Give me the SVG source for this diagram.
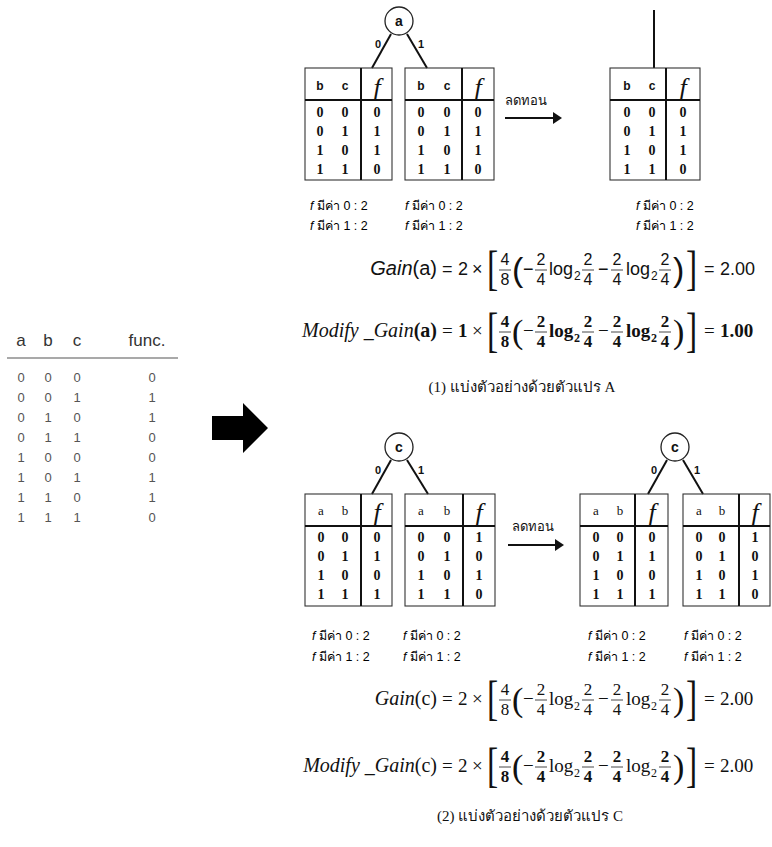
<svg xmlns="http://www.w3.org/2000/svg" width="772" height="847" viewBox="0 0 772 847">
<style>
.frame{fill:none;stroke:#333;stroke-width:1.1}
.bar{stroke:#111;stroke-width:2}
.wire{stroke:#111;stroke-width:2;fill:none}
.thin{stroke:#333;stroke-width:0.9}
.node circle{fill:#fff;stroke:#222;stroke-width:1.3}
.nl{font-family:"Liberation Sans",Arial,sans-serif;font-weight:bold;font-size:14px;text-anchor:middle;fill:#111}
.el{font-family:"Liberation Sans",Arial,sans-serif;font-weight:bold;font-size:11px;text-anchor:middle;fill:#111}
.hd{font-family:"Liberation Sans",Arial,sans-serif;font-weight:bold;font-size:12px;text-anchor:middle;fill:#111}
.hs{font-family:"Liberation Serif","Times New Roman",serif;font-size:13px;text-anchor:middle;fill:#111}
.fx{font-family:"Liberation Serif","Times New Roman",serif;font-style:italic;font-size:26px;text-anchor:middle;fill:#111}
.dg{font-family:"Liberation Serif","Times New Roman",serif;font-weight:bold;font-size:14px;text-anchor:middle;fill:#111}
.cnt{font-family:"Liberation Sans","DejaVu Sans","Noto Sans",sans-serif;font-size:12.5px;fill:#000}
.th{font-family:"Liberation Sans","DejaVu Sans","Noto Sans",sans-serif;font-size:13px;fill:#111}
.lh{font-family:"Liberation Sans",Arial,sans-serif;font-size:17px;fill:#333;text-anchor:middle}
.lt{font-family:"Liberation Sans",Arial,sans-serif;font-size:13px;fill:#555;text-anchor:middle}
.ss{font-family:"Liberation Sans",Arial,sans-serif;font-size:18px;fill:#111}
.sl{font-size:20px}
.sn{font-family:"Liberation Sans",Arial,sans-serif;font-size:16px;fill:#111;text-anchor:middle}
.ms{font-family:"Liberation Serif","Times New Roman",serif;font-size:19px;fill:#111}
.ml{font-size:20px}
.mn{font-family:"Liberation Serif","Times New Roman",serif;font-size:17px;fill:#111;text-anchor:middle}
.b{font-weight:bold}
.it{font-style:italic}
.sub{font-size:12px}
.brk{font-family:"Liberation Serif","Times New Roman",serif;font-size:48px;fill:#111}
.par{font-size:34px}
.cap{font-family:"Liberation Serif","Times New Roman","DejaVu Serif",serif;font-size:15px;fill:#111;text-anchor:middle}
</style>

<!-- source truth table -->
<g id="source-table">
  <text class="lh" x="21" y="346">a</text>
  <text class="lh" x="48" y="346">b</text>
  <text class="lh" x="77" y="346">c</text>
  <text class="lh" x="147" y="346">func.</text>
  <line x1="7" y1="358" x2="178" y2="358" stroke="#555" stroke-width="1.2"/>
  <g class="lt">
    <text x="21" y="382">0</text><text x="48" y="382">0</text><text x="77" y="382">0</text><text x="152" y="382">0</text>
    <text x="21" y="402">0</text><text x="48" y="402">0</text><text x="77" y="402">1</text><text x="152" y="402">1</text>
    <text x="21" y="422">0</text><text x="48" y="422">1</text><text x="77" y="422">0</text><text x="152" y="422">1</text>
    <text x="21" y="442">0</text><text x="48" y="442">1</text><text x="77" y="442">1</text><text x="152" y="442">0</text>
    <text x="21" y="462">1</text><text x="48" y="462">0</text><text x="77" y="462">0</text><text x="152" y="462">0</text>
    <text x="21" y="482">1</text><text x="48" y="482">0</text><text x="77" y="482">1</text><text x="152" y="482">1</text>
    <text x="21" y="502">1</text><text x="48" y="502">1</text><text x="77" y="502">0</text><text x="152" y="502">1</text>
    <text x="21" y="522">1</text><text x="48" y="522">1</text><text x="77" y="522">1</text><text x="152" y="522">0</text>
  </g>
</g>

<!-- connectors: tree edges, reduction arrows, main arrow -->
<g id="connectors">
  <path d="M212 416 H243 V403 L268 428 L243 453 V440 H212 Z" fill="#000"/>
  <line class="wire" x1="391" y1="34" x2="372" y2="68"/>
  <line class="wire" x1="407" y1="34" x2="427" y2="68"/>
  <line class="wire" x1="654" y1="10" x2="654" y2="68"/>
  <line class="wire" x1="391" y1="460" x2="372" y2="494"/>
  <line class="wire" x1="407" y1="460" x2="428" y2="494"/>
  <line class="wire" x1="667" y1="460" x2="648" y2="494"/>
  <line class="wire" x1="683" y1="460" x2="703" y2="494"/>
  <line class="wire" x1="505" y1="118" x2="554" y2="118"/>
  <polygon points="553,112 562,118 553,124" fill="#111"/>
  <line class="wire" x1="508" y1="545" x2="556" y2="545"/>
  <polygon points="555,539 564,545 555,551" fill="#111"/>
  <text class="el" x="378" y="48">0</text>
  <text class="el" x="421" y="48">1</text>
  <text class="el" x="378" y="474">0</text>
  <text class="el" x="421" y="474">1</text>
  <text class="el" x="654" y="474">0</text>
  <text class="el" x="697" y="474">1</text>
  <text class="th" x="505" y="105">ลดทอน</text>
  <text class="th" x="512" y="531">ลดทอน</text>
</g>

<!-- split nodes -->
<g id="node-a" class="node"><circle cx="399" cy="21" r="14"/><text class="nl" x="399" y="26">a</text></g>
<g id="node-c1" class="node"><circle cx="399" cy="447" r="14"/><text class="nl" x="399" y="452">c</text></g>
<g id="node-c2" class="node"><circle cx="675" cy="447" r="14"/><text class="nl" x="675" y="452">c</text></g>

<!-- split on a: branch a=0 -->
<g id="table-a0">
  <rect class="frame" x="305" y="68" width="87" height="112"/>
  <line class="bar" x1="305" y1="100" x2="392" y2="100"/>
  <line class="bar" x1="361" y1="68" x2="361" y2="180"/>
  <text class="hd" x="320" y="90">b</text><text class="hd" x="345" y="90">c</text><text class="fx" x="377" y="96">f</text>
  <g class="dg">
    <text x="320" y="117">0</text><text x="345" y="117">0</text><text x="377" y="117">0</text>
    <text x="320" y="136">0</text><text x="345" y="136">1</text><text x="377" y="136">1</text>
    <text x="320" y="155">1</text><text x="345" y="155">0</text><text x="377" y="155">1</text>
    <text x="320" y="174">1</text><text x="345" y="174">1</text><text x="377" y="174">0</text>
  </g>
</g>
<!-- split on a: branch a=1 -->
<g id="table-a1">
  <rect class="frame" x="405" y="68" width="89" height="112"/>
  <line class="bar" x1="405" y1="100" x2="494" y2="100"/>
  <line class="bar" x1="462" y1="68" x2="462" y2="180"/>
  <text class="hd" x="421" y="90">b</text><text class="hd" x="447" y="90">c</text><text class="fx" x="478" y="96">f</text>
  <g class="dg">
    <text x="421" y="117">0</text><text x="447" y="117">0</text><text x="478" y="117">0</text>
    <text x="421" y="136">0</text><text x="447" y="136">1</text><text x="478" y="136">1</text>
    <text x="421" y="155">1</text><text x="447" y="155">0</text><text x="478" y="155">1</text>
    <text x="421" y="174">1</text><text x="447" y="174">1</text><text x="478" y="174">0</text>
  </g>
</g>
<!-- reduced table after merging -->
<g id="table-a-reduced">
  <rect class="frame" x="610" y="68" width="90" height="112"/>
  <line class="bar" x1="610" y1="100" x2="700" y2="100"/>
  <line class="bar" x1="666" y1="68" x2="666" y2="180"/>
  <text class="hd" x="627" y="90">b</text><text class="hd" x="652" y="90">c</text><text class="fx" x="683" y="96">f</text>
  <g class="dg">
    <text x="627" y="117">0</text><text x="652" y="117">0</text><text x="683" y="117">0</text>
    <text x="627" y="136">0</text><text x="652" y="136">1</text><text x="683" y="136">1</text>
    <text x="627" y="155">1</text><text x="652" y="155">0</text><text x="683" y="155">1</text>
    <text x="627" y="174">1</text><text x="652" y="174">1</text><text x="683" y="174">0</text>
  </g>
</g>

<!-- value counts, part 1 -->
<g id="counts-a" class="cnt">
  <text x="310" y="210"><tspan class="it">f</tspan> มีค่า 0 : 2</text>
  <text x="310" y="230"><tspan class="it">f</tspan> มีค่า 1 : 2</text>
  <text x="405" y="210"><tspan class="it">f</tspan> มีค่า 0 : 2</text>
  <text x="405" y="230"><tspan class="it">f</tspan> มีค่า 1 : 2</text>
  <text x="636" y="210"><tspan class="it">f</tspan> มีค่า 0 : 2</text>
  <text x="636" y="230"><tspan class="it">f</tspan> มีค่า 1 : 2</text>
</g>

<!-- Gain(a) -->
<g id="gain-a">
  <text class="ss sl" x="437" y="275" text-anchor="end"><tspan class="it">Gain</tspan>(a)</text>
  <text class="ss" x="442" y="275">=</text><text class="ss" x="458" y="275">2</text><text class="ss" x="472" y="275">×</text>
  <text class="brk" transform="translate(487 284) scale(0.7 1)">[</text>
  <text class="sn" x="505" y="265">4</text><line class="thin" x1="499" y1="270" x2="511" y2="270"/><text class="sn" x="505" y="285">8</text>
  <text class="ss par" x="512" y="281">(</text>
  <text class="ss" x="523" y="275">−</text>
  <text class="sn" x="541" y="265">2</text><line class="thin" x1="535" y1="270" x2="547" y2="270"/><text class="sn" x="541" y="285">4</text>
  <text class="ss" x="549" y="275">log</text><text class="ss sub" x="574" y="280">2</text>
  <text class="sn" x="588" y="265">2</text><line class="thin" x1="582" y1="270" x2="594" y2="270"/><text class="sn" x="588" y="285">4</text>
  <text class="ss" x="598" y="275">−</text>
  <text class="sn" x="617" y="265">2</text><line class="thin" x1="611" y1="270" x2="623" y2="270"/><text class="sn" x="617" y="285">4</text>
  <text class="ss" x="626" y="275">log</text><text class="ss sub" x="651" y="280">2</text>
  <text class="sn" x="665" y="265">2</text><line class="thin" x1="659" y1="270" x2="671" y2="270"/><text class="sn" x="665" y="285">4</text>
  <text class="ss par" x="673" y="281">)</text>
  <text class="brk" transform="translate(686 284) scale(0.7 1)">]</text>
  <text class="ss" x="704" y="275">=</text><text class="ss" x="720" y="275">2.00</text>
</g>

<!-- Modify_Gain(a) -->
<g id="modify-gain-a">
  <text class="ms ml" x="437" y="337" text-anchor="end"><tspan class="it">Modify _Gain</tspan><tspan class="b">(a)</tspan></text>
  <text class="ms" x="442" y="337">=</text><text class="ms b" x="458" y="337">1</text><text class="ms" x="472" y="337">×</text>
  <text class="brk" transform="translate(487 346) scale(0.7 1)">[</text>
  <text class="mn b" x="505" y="327">4</text><line class="thin" x1="499" y1="332" x2="511" y2="332"/><text class="mn b" x="505" y="347">8</text>
  <text class="ms par" x="512" y="343">(</text>
  <text class="ms" x="523" y="337">−</text>
  <text class="mn b" x="541" y="327">2</text><line class="thin" x1="535" y1="332" x2="547" y2="332"/><text class="mn b" x="541" y="347">4</text>
  <text class="ms b" x="549" y="337">log</text><text class="ms sub b" x="574" y="342">2</text>
  <text class="mn b" x="588" y="327">2</text><line class="thin" x1="582" y1="332" x2="594" y2="332"/><text class="mn b" x="588" y="347">4</text>
  <text class="ms" x="598" y="337">−</text>
  <text class="mn b" x="617" y="327">2</text><line class="thin" x1="611" y1="332" x2="623" y2="332"/><text class="mn b" x="617" y="347">4</text>
  <text class="ms b" x="626" y="337">log</text><text class="ms sub b" x="651" y="342">2</text>
  <text class="mn b" x="665" y="327">2</text><line class="thin" x1="659" y1="332" x2="671" y2="332"/><text class="mn b" x="665" y="347">4</text>
  <text class="ms par" x="673" y="343">)</text>
  <text class="brk" transform="translate(686 346) scale(0.7 1)">]</text>
  <text class="ms" x="704" y="337">=</text><text class="ms b" x="720" y="337">1.00</text>
</g>

<text id="caption-1" class="cap" x="522" y="392">(1) แบ่งตัวอย่างด้วยตัวแปร A</text>

<!-- split on c: branch c=0 -->
<g id="table-c0">
  <rect class="frame" x="305" y="494" width="87" height="112"/>
  <line class="bar" x1="305" y1="526" x2="392" y2="526"/>
  <line class="bar" x1="361" y1="494" x2="361" y2="606"/>
  <text class="hs" x="321" y="515">a</text><text class="hs" x="345" y="515">b</text><text class="fx" x="377" y="521">f</text>
  <g class="dg">
    <text x="321" y="542">0</text><text x="345" y="542">0</text><text x="377" y="542">0</text>
    <text x="321" y="561">0</text><text x="345" y="561">1</text><text x="377" y="561">1</text>
    <text x="321" y="580">1</text><text x="345" y="580">0</text><text x="377" y="580">0</text>
    <text x="321" y="599">1</text><text x="345" y="599">1</text><text x="377" y="599">1</text>
  </g>
</g>
<!-- split on c: branch c=1 -->
<g id="table-c1">
  <rect class="frame" x="405" y="494" width="90" height="112"/>
  <line class="bar" x1="405" y1="526" x2="495" y2="526"/>
  <line class="bar" x1="463" y1="494" x2="463" y2="606"/>
  <text class="hs" x="421" y="515">a</text><text class="hs" x="447" y="515">b</text><text class="fx" x="479" y="521">f</text>
  <g class="dg">
    <text x="421" y="542">0</text><text x="447" y="542">0</text><text x="479" y="542">1</text>
    <text x="421" y="561">0</text><text x="447" y="561">1</text><text x="479" y="561">0</text>
    <text x="421" y="580">1</text><text x="447" y="580">0</text><text x="479" y="580">1</text>
    <text x="421" y="599">1</text><text x="447" y="599">1</text><text x="479" y="599">0</text>
  </g>
</g>
<!-- after reduction, branch c=0 -->
<g id="table-c0-reduced">
  <rect class="frame" x="580" y="494" width="88" height="112"/>
  <line class="bar" x1="580" y1="526" x2="668" y2="526"/>
  <line class="bar" x1="635" y1="494" x2="635" y2="606"/>
  <text class="hs" x="596" y="515">a</text><text class="hs" x="620" y="515">b</text><text class="fx" x="652" y="521">f</text>
  <g class="dg">
    <text x="596" y="542">0</text><text x="620" y="542">0</text><text x="652" y="542">0</text>
    <text x="596" y="561">0</text><text x="620" y="561">1</text><text x="652" y="561">1</text>
    <text x="596" y="580">1</text><text x="620" y="580">0</text><text x="652" y="580">0</text>
    <text x="596" y="599">1</text><text x="620" y="599">1</text><text x="652" y="599">1</text>
  </g>
</g>
<!-- after reduction, branch c=1 -->
<g id="table-c1-reduced">
  <rect class="frame" x="683" y="494" width="87" height="112"/>
  <line class="bar" x1="683" y1="526" x2="770" y2="526"/>
  <line class="bar" x1="739" y1="494" x2="739" y2="606"/>
  <text class="hs" x="699" y="515">a</text><text class="hs" x="722" y="515">b</text><text class="fx" x="755" y="521">f</text>
  <g class="dg">
    <text x="699" y="542">0</text><text x="722" y="542">0</text><text x="755" y="542">1</text>
    <text x="699" y="561">0</text><text x="722" y="561">1</text><text x="755" y="561">0</text>
    <text x="699" y="580">1</text><text x="722" y="580">0</text><text x="755" y="580">1</text>
    <text x="699" y="599">1</text><text x="722" y="599">1</text><text x="755" y="599">0</text>
  </g>
</g>

<!-- value counts, part 2 -->
<g id="counts-c" class="cnt">
  <text x="312" y="640"><tspan class="it">f</tspan> มีค่า 0 : 2</text>
  <text x="312" y="661"><tspan class="it">f</tspan> มีค่า 1 : 2</text>
  <text x="403" y="640"><tspan class="it">f</tspan> มีค่า 0 : 2</text>
  <text x="403" y="661"><tspan class="it">f</tspan> มีค่า 1 : 2</text>
  <text x="588" y="640"><tspan class="it">f</tspan> มีค่า 0 : 2</text>
  <text x="588" y="661"><tspan class="it">f</tspan> มีค่า 1 : 2</text>
  <text x="684" y="640"><tspan class="it">f</tspan> มีค่า 0 : 2</text>
  <text x="684" y="661"><tspan class="it">f</tspan> มีค่า 1 : 2</text>
</g>

<!-- Gain(c) -->
<g id="gain-c">
  <text class="ms ml" x="437" y="705" text-anchor="end"><tspan class="it">Gain</tspan>(c)</text>
  <text class="ms" x="442" y="705">=</text><text class="ms" x="458" y="705">2</text><text class="ms" x="472" y="705">×</text>
  <text class="brk" transform="translate(487 714) scale(0.7 1)">[</text>
  <text class="mn" x="505" y="695">4</text><line class="thin" x1="499" y1="700" x2="511" y2="700"/><text class="mn" x="505" y="715">8</text>
  <text class="ms par" x="512" y="711">(</text>
  <text class="ms" x="523" y="705">−</text>
  <text class="mn" x="541" y="695">2</text><line class="thin" x1="535" y1="700" x2="547" y2="700"/><text class="mn" x="541" y="715">4</text>
  <text class="ms" x="549" y="705">log</text><text class="ms sub" x="574" y="710">2</text>
  <text class="mn" x="588" y="695">2</text><line class="thin" x1="582" y1="700" x2="594" y2="700"/><text class="mn" x="588" y="715">4</text>
  <text class="ms" x="598" y="705">−</text>
  <text class="mn" x="617" y="695">2</text><line class="thin" x1="611" y1="700" x2="623" y2="700"/><text class="mn" x="617" y="715">4</text>
  <text class="ms" x="626" y="705">log</text><text class="ms sub" x="651" y="710">2</text>
  <text class="mn" x="665" y="695">2</text><line class="thin" x1="659" y1="700" x2="671" y2="700"/><text class="mn" x="665" y="715">4</text>
  <text class="ms par" x="673" y="711">)</text>
  <text class="brk" transform="translate(686 714) scale(0.7 1)">]</text>
  <text class="ms" x="704" y="705">=</text><text class="ms" x="720" y="705">2.00</text>
</g>

<!-- Modify_Gain(c) -->
<g id="modify-gain-c">
  <text class="ms ml" x="437" y="772" text-anchor="end"><tspan class="it">Modify _Gain</tspan>(c)</text>
  <text class="ms" x="442" y="772">=</text><text class="ms" x="458" y="772">2</text><text class="ms" x="472" y="772">×</text>
  <text class="brk" transform="translate(487 781) scale(0.7 1)">[</text>
  <text class="mn b" x="505" y="762">4</text><line class="thin" x1="499" y1="767" x2="511" y2="767"/><text class="mn b" x="505" y="782">8</text>
  <text class="ms par" x="512" y="778">(</text>
  <text class="ms" x="523" y="772">−</text>
  <text class="mn b" x="541" y="762">2</text><line class="thin" x1="535" y1="767" x2="547" y2="767"/><text class="mn b" x="541" y="782">4</text>
  <text class="ms" x="549" y="772">log</text><text class="ms sub" x="574" y="777">2</text>
  <text class="mn b" x="588" y="762">2</text><line class="thin" x1="582" y1="767" x2="594" y2="767"/><text class="mn b" x="588" y="782">4</text>
  <text class="ms" x="598" y="772">−</text>
  <text class="mn b" x="617" y="762">2</text><line class="thin" x1="611" y1="767" x2="623" y2="767"/><text class="mn b" x="617" y="782">4</text>
  <text class="ms" x="626" y="772">log</text><text class="ms sub" x="651" y="777">2</text>
  <text class="mn b" x="665" y="762">2</text><line class="thin" x1="659" y1="767" x2="671" y2="767"/><text class="mn b" x="665" y="782">4</text>
  <text class="ms par" x="673" y="778">)</text>
  <text class="brk" transform="translate(686 781) scale(0.7 1)">]</text>
  <text class="ms" x="704" y="772">=</text><text class="ms" x="720" y="772">2.00</text>
</g>

<text id="caption-2" class="cap" x="530" y="821">(2) แบ่งตัวอย่างด้วยตัวแปร C</text>
</svg>
